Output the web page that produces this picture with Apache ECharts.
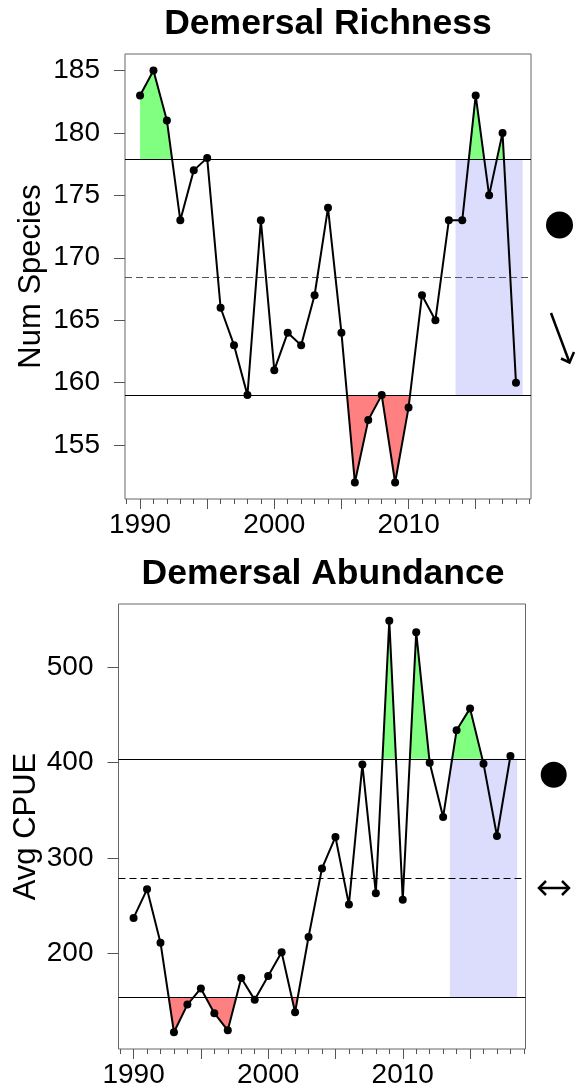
<!DOCTYPE html>
<html><head><meta charset="utf-8">
<script src="https://cdn.jsdelivr.net/npm/echarts@6/dist/echarts.min.js"></script>
<style>html,body{margin:0;padding:0;background:#fff}#c{width:579px;height:1090px}</style>
</head><body><div id="c"></div>
<script>
const years = [1990,1991,1992,1993,1994,1995,1996,1997,1998,1999,2000,2001,2002,2003,2004,2005,2006,2007,2008,2009,2010,2011,2012,2013,2014,2015,2016,2017,2018];
const richness = [183,185,181,173,177,178,166,163,159,173,161,164,163,167,174,164,152,157,159,152,158,167,165,173,173,183,175,180,160];
const abundance = [237,267,211,117,146,163,137,119,174,151,176,201,138,217,289,322,251,398,263,549,256,537,400,343,434,457,399,323,407];
const richnessRef = {mean: 168.45, upper: 177.9, lower: 158.95};
const abundanceRef = {mean: 278.7, upper: 404, lower: 153.5};
const richnessTicks = [155,160,165,170,175,180,185];
const abundanceTicks = [200,300,400,500];
const yearLabels = [1990,2000,2010];
const yearMajorTicks = [1990,1995,2000,2005,2010,2015];
const recentWindow = [2013.5, 2018.5];
const titles = ['Demersal Richness', 'Demersal Abundance'];
const yNames = ['Num Species', 'Avg CPUE'];

const FONT = '"Liberation Sans", Arial, sans-serif';

function excursions(xs, ys, thr, sign) {
  const polys = []; let cur = null;
  const out = v => sign * (v - thr) > 0;
  for (let i = 0; i < xs.length; i++) {
    const o = out(ys[i]);
    if (i > 0) {
      const po = out(ys[i-1]);
      if (po !== o) {
        const t = (thr - ys[i-1]) / (ys[i] - ys[i-1]);
        const xc = xs[i-1] + t * (xs[i] - xs[i-1]);
        if (po) { cur.push([xc, thr]); polys.push(cur); cur = null; }
        else { cur = [[xc, thr]]; }
      }
    }
    if (o) { if (!cur) cur = [[xs[i], thr]]; cur.push([xs[i], ys[i]]); }
  }
  if (cur) { cur.push([xs[xs.length-1], thr]); polys.push(cur); }
  return polys;
}

function fillSeries(polys, idx, color) {
  return {
    type: 'custom', xAxisIndex: idx, yAxisIndex: idx, z: 2, silent: true,
    data: polys.map(p => p[0]),
    renderItem: (params, api) => {
      const poly = polys[params.dataIndex];
      return {type: 'polygon', shape: {points: poly.map(p => api.coord(p))}, style: {fill: color}};
    }
  };
}

function windowSeries(idx, ref) {
  return {
    type: 'custom', xAxisIndex: idx, yAxisIndex: idx, z: 1, silent: true,
    data: [[recentWindow[0], ref.lower, recentWindow[1], ref.upper]],
    renderItem: (params, api) => {
      const p0 = api.coord([api.value(0), api.value(1)]);
      const p1 = api.coord([api.value(2), api.value(3)]);
      return {type: 'rect', shape: {x: p0[0], y: p1[1], width: p1[0] - p0[0], height: p0[1] - p1[1]}, style: {fill: '#dcdcfc'}};
    }
  };
}

function lineSeries(idx, vals, ref, dashColor) {
  return {
    type: 'line', xAxisIndex: idx, yAxisIndex: idx, z: 5,
    data: years.map((y, i) => [y, vals[i]]),
    symbol: 'circle', symbolSize: 8,
    lineStyle: {color: '#000', width: 2}, itemStyle: {color: '#000'},
    markLine: {
      silent: true, symbol: 'none', label: {show: false}, animation: false,
      lineStyle: {color: '#000', width: 1, type: 'solid'},
      data: [
        {yAxis: ref.upper},
        {yAxis: ref.lower},
        {yAxis: ref.mean, lineStyle: {type: [7, 4], color: dashColor, width: 1}}
      ]
    }
  };
}

function xAxis(idx) {
  return {
    gridIndex: idx, type: 'value', min: 1988.88, max: 2019.12, position: 'bottom',
    axisLine: {show: false}, splitLine: {show: false}, minorSplitLine: {show: false},
    axisTick: {show: true, length: 10, customValues: yearMajorTicks, lineStyle: {color: '#555'}},
    minorTick: {show: true, splitNumber: 5, length: 5, lineStyle: {color: '#555'}},
    axisLabel: {customValues: yearLabels, fontSize: 28, color: '#000', margin: 12, fontFamily: FONT,
      formatter: v => String(v)}
  };
}

function yAxis(idx, min, max, ticks, gap) {
  return {
    gridIndex: idx, type: 'value', min: min, max: max, position: 'left',
    axisLine: {show: false}, splitLine: {show: false},
    axisTick: {show: true, length: 11, customValues: ticks, lineStyle: {color: '#555'}},
    axisLabel: {customValues: ticks, fontSize: 28, color: '#000', margin: 25, fontFamily: FONT},
    name: yNames[idx], nameLocation: 'middle', nameGap: gap, nameMoveOverlap: false,
    nameTextStyle: {fontSize: 31, color: '#000', fontFamily: FONT}
  };
}

const chart = echarts.init(document.getElementById('c'), null, {renderer: 'canvas'});
const gridStyle = {show: true, borderColor: '#666', borderWidth: 1, backgroundColor: 'transparent'};

chart.setOption({
  animation: false,
  backgroundColor: '#fff',
  grid: [
    Object.assign({left: 125, top: 54, width: 406, height: 445}, gridStyle),
    Object.assign({left: 118.5, top: 604, width: 407, height: 445}, gridStyle)
  ],
  xAxis: [xAxis(0), xAxis(1)],
  yAxis: [
    yAxis(0, 150.68, 186.32, richnessTicks, 78),
    yAxis(1, 99.4, 566.6, abundanceTicks, 77)
  ],
  series: [
    windowSeries(0, richnessRef),
    fillSeries(excursions(years, richness, richnessRef.upper, 1), 0, '#80ff80'),
    fillSeries(excursions(years, richness, richnessRef.lower, -1), 0, '#ff8080'),
    lineSeries(0, richness, richnessRef, '#555'),
    windowSeries(1, abundanceRef),
    fillSeries(excursions(years, abundance, abundanceRef.upper, 1), 1, '#80ff80'),
    fillSeries(excursions(years, abundance, abundanceRef.lower, -1), 1, '#ff8080'),
    lineSeries(1, abundance, abundanceRef, '#000')
  ],
  graphic: [
    {type: 'text', x: 328, y: 24, style: {text: titles[0], font: 'bold 35.5px ' + FONT, fill: '#000', align: 'center', verticalAlign: 'middle'}},
    {type: 'text', x: 323, y: 574, style: {text: titles[1], font: 'bold 35.5px ' + FONT, fill: '#000', align: 'center', verticalAlign: 'middle'}},
    {type: 'circle', shape: {cx: 559.5, cy: 225, r: 13.5}, style: {fill: '#000'}},
    {type: 'polyline', shape: {points: [[551, 313], [569.5, 362.5]]}, style: {stroke: '#000', lineWidth: 2.5, fill: null}},
    {type: 'polyline', shape: {points: [[561, 358.5], [569.5, 362.5], [574, 352]]}, style: {stroke: '#000', lineWidth: 2.5, fill: null}},
    {type: 'circle', shape: {cx: 553.7, cy: 774.7, r: 13}, style: {fill: '#000'}},
    {type: 'polyline', shape: {points: [[539, 888], [569, 888]]}, style: {stroke: '#000', lineWidth: 2.5, fill: null}},
    {type: 'polyline', shape: {points: [[546, 881], [539, 888], [546, 895]]}, style: {stroke: '#000', lineWidth: 2.5, fill: null}},
    {type: 'polyline', shape: {points: [[562, 881], [569, 888], [562, 895]]}, style: {stroke: '#000', lineWidth: 2.5, fill: null}}
  ]
});
</script></body></html>
